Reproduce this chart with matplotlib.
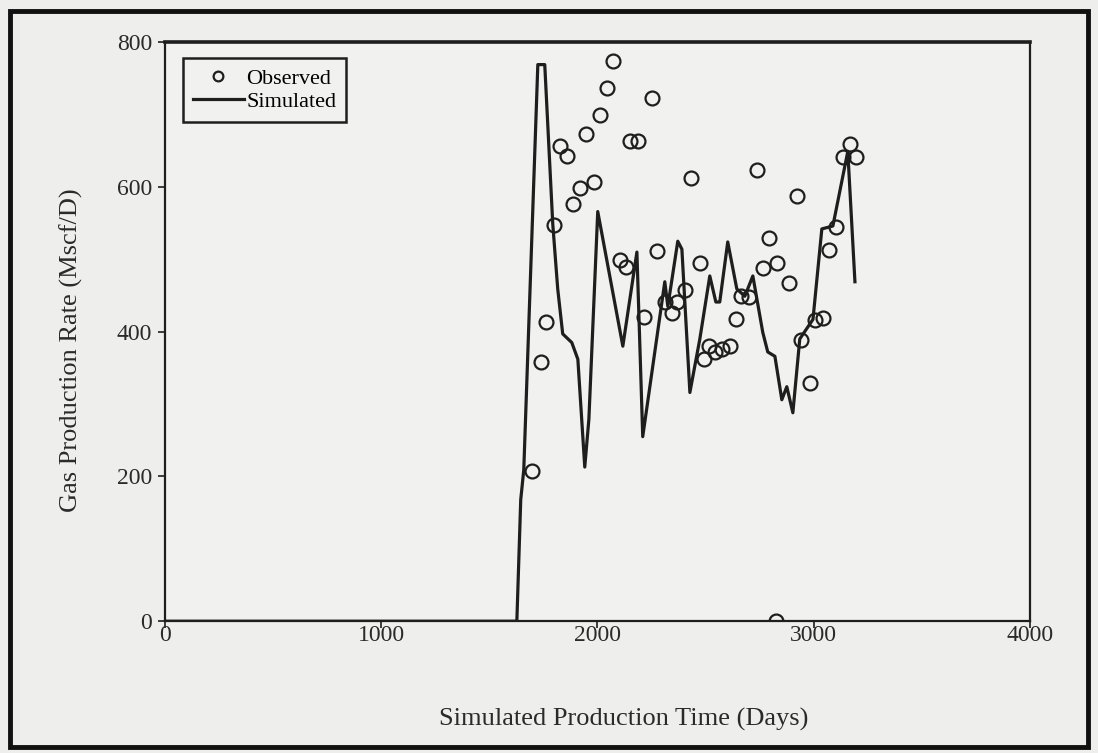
import matplotlib
matplotlib.use('Agg')
import matplotlib.pyplot as plt
from matplotlib.patches import Rectangle

# observed gas rate (days, Mscf/D)
obs_days = [1697, 1739, 1762, 1799, 1827, 1859, 1887, 1919, 1947, 1984,
            2012, 2044, 2072, 2104, 2132, 2150, 2187, 2215, 2252, 2275,
            2312, 2344, 2368, 2405, 2432, 2474, 2492, 2516, 2543, 2576,
            2613, 2640, 2664, 2700, 2738, 2765, 2793, 2830, 2825, 2886,
            2922, 2941, 2983, 3006, 3043, 3071, 3103, 3135, 3168, 3195]
obs_rate = [208, 358, 413, 548, 656, 643, 577, 598, 673, 607,
            699, 736, 774, 499, 490, 663, 664, 420, 723, 512,
            441, 426, 441, 458, 612, 495, 362, 380, 372, 376,
            380, 417, 449, 448, 624, 488, 530, 495, 1, 467,
            587, 388, 329, 416, 419, 513, 545, 641, 660, 641]

# simulated gas rate
sim_days = [0, 1628, 1646, 1660, 1725, 1757, 1794, 1817, 1840, 1882,
            1910, 1942, 1961, 2002, 2118, 2183, 2210, 2312, 2326, 2372,
            2391, 2428, 2474, 2520, 2548, 2566, 2603, 2645, 2682, 2719,
            2765, 2788, 2821, 2853, 2876, 2904, 2936, 2997, 3038, 3089,
            3158, 3191]
sim_rate = [0, 0, 168, 209, 769, 769, 549, 459, 397, 385,
            362, 213, 279, 566, 380, 510, 255, 469, 435, 525,
            514, 316, 390, 477, 441, 441, 524, 459, 449, 477,
            399, 372, 366, 306, 324, 288, 390, 417, 542, 546,
            649, 469]

xticks = [0, 1000, 2000, 3000, 4000]
yticks = [0, 200, 400, 600, 800]

bg = '#eeeeec'
ink = '#1e1e1e'
txt = '#2a2a2a'
plt.rcParams['font.family'] = ['Liberation Serif', 'DejaVu Serif']

fg = plt.figure(figsize=(10.98, 7.53), dpi=100, facecolor=bg)
ax = fg.add_axes([0.150, 0.175, 0.788, 0.769])
ax.set_facecolor('#f1f1ef')

ax.plot(sim_days, sim_rate, color=ink, linewidth=2.3, label='Simulated')
ax.plot(obs_days, obs_rate, linestyle='none', marker='o', markersize=10,
        markerfacecolor='none', markeredgecolor=ink, markeredgewidth=1.6,
        label='Observed')

ax.set_xlim(0, 4000)
ax.set_ylim(0, 800)
ax.set_xticks(xticks)
ax.set_yticks(yticks)
ax.tick_params(direction='out', length=5, width=1.2, colors=ink,
               labelsize=17, labelcolor=txt)
ax.tick_params(axis='x', pad=-2)
ax.tick_params(axis='y', pad=4)
for s in ax.spines.values():
    s.set_linewidth(1.6)
    s.set_color(ink)
ax.spines['top'].set_linewidth(2.6)

ax.set_xlabel('Simulated Production Time (Days)', fontsize=19, color=txt)
ax.set_ylabel('Gas Production Rate (Mscf/D)', fontsize=19, color=txt)
ax.xaxis.set_label_coords(0.53, -0.15)
ax.yaxis.set_label_coords(-0.095, 0.468)

h, l = ax.get_legend_handles_labels()
leg = ax.legend(h[::-1], l[::-1], loc='upper left', bbox_to_anchor=(0.021, 0.972),
                borderaxespad=0, fontsize=16, frameon=True, fancybox=False,
                handlelength=2.3, handletextpad=0.1, borderpad=0.45,
                labelspacing=0.1, markerscale=0.7)
leg.get_frame().set_edgecolor(ink)
leg.get_frame().set_linewidth(1.8)
leg.get_frame().set_facecolor('#f1f1ef')
leg.get_frame().set_alpha(1)

# scanned page border
fg.patches.append(Rectangle((0.009, 0.008), 0.982, 0.977, transform=fg.transFigure,
                            fill=False, edgecolor='#111111', linewidth=3.5))

fg.savefig('out.png', dpi=100, facecolor=bg)
